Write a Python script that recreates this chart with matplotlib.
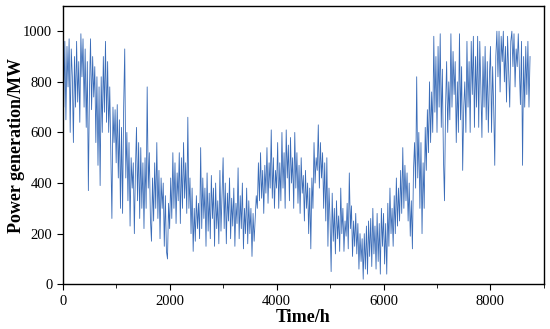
import matplotlib
matplotlib.use("Agg")
import matplotlib.pyplot as plt
import numpy as np
from matplotlib.ticker import MultipleLocator

plt.rcParams['font.family'] = ['Liberation Serif', 'DejaVu Serif']

# power generation, one value every 20 h
step_h = 20
power_0 = [990, 700, 960, 650, 940, 780, 970, 600, 930, 820, 560, 900, 700, 960, 720, 880, 640, 990, 820, 970,
           700, 930, 620, 880, 370, 760, 970, 690, 900, 740, 860, 560, 820, 470, 780, 390, 820, 600, 900, 680,
           960, 640, 880, 600, 780, 520, 260, 700, 560, 690]
power_1 = [480, 710, 420, 650, 300, 620, 280, 700, 930, 420, 600, 330, 560, 230, 500, 380, 480, 200, 450, 620,
           330, 560, 260, 540, 300, 480, 220, 500, 300, 780, 380, 520, 260, 170, 420, 250, 480, 300, 560, 260,
           450, 180, 420, 300, 400, 150, 350, 130, 100, 320]
power_2 = [220, 420, 260, 520, 300, 480, 240, 440, 330, 520, 240, 500, 300, 560, 340, 480, 280, 660, 300, 420,
           200, 380, 130, 300, 170, 350, 220, 320, 180, 540, 220, 420, 260, 380, 150, 440, 210, 360, 180, 430,
           260, 380, 150, 400, 220, 330, 160, 450, 210, 360]
power_3 = [500, 220, 400, 160, 360, 250, 420, 180, 340, 230, 380, 150, 320, 240, 460, 180, 350, 220, 400, 140,
           300, 200, 380, 160, 330, 200, 300, 110, 280, 170, 260, 350, 300, 480, 330, 520, 340, 450, 280, 470,
           360, 540, 320, 480, 380, 610, 340, 500, 300, 450]
power_4 = [380, 560, 300, 480, 330, 600, 380, 520, 300, 610, 420, 550, 330, 580, 400, 500, 300, 600, 380, 520,
           320, 470, 280, 500, 360, 430, 250, 450, 300, 400, 200, 380, 140, 420, 300, 560, 400, 500, 450, 630,
           380, 560, 420, 520, 300, 480, 250, 500, 150, 380]
power_5 = [250, 50, 360, 170, 300, 120, 330, 180, 270, 130, 380, 200, 300, 130, 250, 190, 320, 140, 440, 220,
           310, 110, 250, 150, 280, 120, 240, 60, 200, 90, 180, 20, 200, 60, 230, 40, 250, 110, 260, 70,
           300, 120, 230, 60, 280, 90, 240, 40, 300, 150]
power_6 = [280, 80, 240, 40, 320, 150, 380, 200, 300, 150, 350, 200, 420, 230, 380, 250, 450, 280, 540, 300,
           470, 330, 440, 250, 400, 190, 330, 140, 450, 560, 380, 820, 420, 600, 300, 560, 200, 480, 300, 620,
           450, 690, 520, 800, 560, 760, 600, 980, 680, 900]
power_7 = [600, 940, 700, 990, 620, 850, 500, 330, 700, 880, 600, 800, 650, 990, 700, 920, 750, 880, 560, 800,
           600, 990, 650, 860, 450, 700, 800, 600, 960, 700, 880, 600, 960, 750, 980, 620, 900, 700, 980, 620,
           960, 780, 580, 900, 700, 940, 650, 880, 600, 820]
power_8 = [940, 600, 860, 700, 470, 900, 1000, 820, 1000, 760, 980, 880, 1000, 800, 940, 720, 980, 840, 700, 960,
           1000, 860, 990, 780, 930, 860, 990, 850, 710, 960, 470, 900, 700, 940, 750, 960, 700, 900]

power = np.array(power_0 + power_1 + power_2 + power_3 + power_4 +
                 power_5 + power_6 + power_7 + power_8)
hours = np.arange(len(power)) * step_h

fig = plt.figure(figsize=(5.5, 3.29), dpi=100)
ax = fig.add_axes([0.114, 0.136, 0.875, 0.846])
ax.plot(hours, power, color='#3a6cb8', lw=0.6)

ax.set_xlim(0, 9000)
ax.set_ylim(0, 1100)
ax.xaxis.set_major_locator(MultipleLocator(2000))
ax.xaxis.set_minor_locator(MultipleLocator(1000))
ax.yaxis.set_major_locator(MultipleLocator(200))
ax.tick_params(which='both', direction='out', top=False, right=False, labelsize=10.5)
ax.tick_params(which='major', length=4)
ax.tick_params(which='minor', length=3)
for s in ax.spines.values():
    s.set_linewidth(1.0)

ax.set_xlabel('Time/h', fontsize=13, fontweight='bold', labelpad=1)
ax.set_ylabel('Power generation/MW', fontsize=13, fontweight='bold', labelpad=-1)

fig.savefig('out.png', dpi=100)
